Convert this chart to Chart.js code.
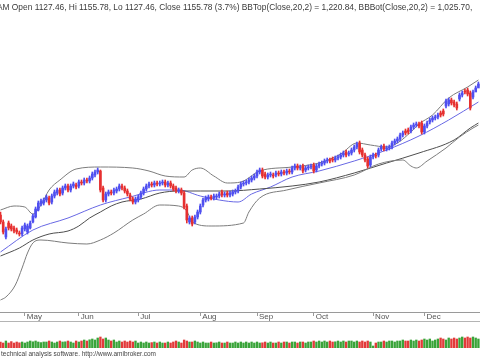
<!DOCTYPE html>
<html><head><meta charset="utf-8">
<script src="https://cdn.jsdelivr.net/npm/chart.js@4.4.1/dist/chart.umd.min.js"></script>
<style>html,body{margin:0;padding:0;background:#fff;overflow:hidden}
#wrap{position:relative;width:480px;height:360px;background:#fff}
canvas{position:absolute;left:0}
#c1{top:0}#c2{top:326px}</style></head>
<body><div id="wrap"><canvas id="c1" width="480" height="326"></canvas><canvas id="c2" width="480" height="34"></canvas></div>
<script>
const titleText = "AM Open 1127.46, Hi 1155.78, Lo 1127.46, Close 1155.78 (3.7%) BBTop(Close,20,2) = 1,220.84, BBBot(Close,20,2) = 1,025.70,";
const footerText = "technical analysis software. http://www.amibroker.com";
const monthLabels = ['May','Jun','Jul','Aug','Sep','Oct','Nov','Dec'];
const monthStarts = [9, 29, 51, 74, 95, 116, 138, 157];

const openP = [660,632,572,628,616,608,600,588,584,604,
592,608,632,652,680,704,708,720,728,712,
736,748,760,748,768,776,760,776,780,776,
792,788,800,796,808,820,832,836,768,720,
744,752,748,756,764,776,768,756,740,724,
712,720,732,748,764,776,784,780,788,784,
788,792,780,788,776,768,756,760,748,696,
632,648,632,652,672,700,720,724,732,728,
732,736,752,740,748,740,744,752,756,772,
784,788,792,800,808,816,832,840,824,812,
820,820,820,828,824,832,828,836,832,848,
856,848,856,840,848,852,860,840,856,864,
868,876,880,884,880,888,892,900,912,904,
908,920,932,948,920,900,884,860,892,900,
900,924,936,924,928,932,948,956,964,980,
996,1000,996,1012,1020,1024,1028,992,1016,1032,
1040,1048,1052,1068,1076,1096,1104,1120,1112,1104,
1124,1140,1156,1160,1148,1132,1152,1168];
const closeP = [632,592,604,608,604,596,592,584,608,620,
616,628,656,684,708,716,720,732,708,736,
752,760,744,768,776,760,776,784,772,792,
788,800,796,808,824,832,840,760,720,744,
752,748,760,764,776,768,756,744,724,712,
724,732,748,764,776,784,780,788,784,788,
792,780,788,776,764,756,760,748,692,640,
648,624,652,672,696,720,728,732,728,736,
736,744,740,744,740,748,752,756,772,784,
788,792,800,808,816,832,840,816,812,820,
824,816,828,824,832,828,836,832,848,856,
848,852,836,848,852,856,836,856,864,868,
876,880,876,880,888,892,900,908,900,908,
920,932,944,912,900,880,856,892,900,896,
920,932,924,928,932,948,956,964,980,988,
988,992,1012,1020,1024,1016,992,1016,1028,1040,
1048,1052,1060,1060,1064,1116,1120,1108,1100,1088,
1140,1148,1152,1144,1088,1152,1168,1184];
const highP = [672,640,612,636,624,616,608,596,616,628,
624,636,664,692,716,724,728,740,736,744,
760,768,768,776,784,784,784,792,788,800,
800,808,808,816,832,840,848,840,776,752,
760,760,768,772,784,784,776,764,748,732,
732,740,756,772,784,792,792,796,796,796,
800,800,796,796,784,776,768,768,756,704,
656,656,660,680,704,728,736,740,740,744,
744,752,760,752,756,756,760,764,780,792,
796,800,808,816,824,840,848,848,832,828,
832,828,836,836,840,840,844,844,856,864,
864,860,864,856,860,864,868,864,872,876,
884,888,888,892,896,900,908,916,920,916,
928,940,952,956,928,908,892,900,908,908,
928,940,944,936,940,956,964,972,988,996,
1004,1008,1020,1028,1032,1032,1036,1024,1036,1048,
1056,1060,1068,1076,1084,1124,1128,1128,1120,1112,
1148,1156,1164,1168,1156,1160,1176,1192];
const lowP = [624,584,564,600,596,588,584,576,576,596,
584,604,628,648,676,696,700,712,700,704,
728,740,736,740,760,752,752,768,764,768,
780,780,788,788,800,812,824,752,712,712,
736,740,740,748,756,760,748,736,716,704,
704,712,724,740,756,768,772,772,776,776,
780,772,772,768,756,748,748,740,684,628,
624,616,624,644,664,692,712,716,720,720,
724,728,732,732,732,732,736,744,748,764,
776,780,784,792,800,808,824,808,804,804,
812,808,812,816,816,820,820,824,824,840,
840,840,828,832,840,844,828,832,848,856,
860,868,868,872,872,880,884,892,892,896,
900,912,924,904,892,872,848,852,884,888,
892,916,916,916,920,924,940,948,956,972,
980,984,988,1004,1012,1008,984,984,1008,1024,
1032,1040,1044,1052,1056,1088,1096,1100,1092,1080,
1116,1132,1144,1136,1080,1124,1160,1176];
const volumeM = [600,500,700,500,640,500,600,520,600,
500,600,700,620,700,600,540,600,600,700,600,500,600,700,600,620,700,600,500,700,600,
700,800,700,820,900,800,1000,1100,900,1000,800,700,800,600,700,600,700,600,700,600,700,
500,600,500,600,500,540,600,500,600,500,500,600,500,600,700,600,500,800,700,600,600,700,
600,500,600,500,500,600,500,520,600,500,500,600,500,500,600,500,600,500,600,500,600,
500,600,500,520,600,500,600,500,500,600,500,600,600,500,600,600,500,600,600,500,600,
600,700,600,700,600,700,600,700,600,620,700,600,700,600,700,700,600,700,600,700,600,700,
600,200,500,600,600,700,600,700,700,600,700,700,800,700,700,800,700,800,700,
800,900,800,900,700,800,900,1000,900,800,1000,900,1000,900,1000,1100,1000,1100,1000,1100,1000,900];

// indicator lines: [bar index, value]
const bbTop = [[0,680],[5,696],[9,692],[12,664],[15,700],[18,760],[22,800],[28,844],[37,852],[49,848],[55,836],[61,816],[68,812],[71,840],[74,848],[79,816],[84,788],[89,792],[96,836],[108,852],[118,868],[126,904],[132,948],[137,940],[143,932],[147,948],[152,992],[155,1024],[160,1060],[166,1128],[173,1172],[177,1200]];
const bbBot = [[0,320],[2,332],[5.5,380],[8,448],[10,508],[12,548],[15,560],[25,548],[32,544],[37,560],[42,588],[49,640],[53,664],[59,700],[66,696],[69,676],[71,632],[78,616],[90,628],[92,672],[96,728],[106,760],[118,788],[131,820],[140,864],[149,880],[152,856],[154,848],[158,876],[165,928],[170,972],[175,1008],[177,1020]];
const ma20 = [[0,512],[12,600],[25,648],[37,700],[48,732],[59,760],[66,760],[74,736],[81,720],[88,712],[93,744],[100,772],[108,812],[118,836],[131,876],[143,920],[155,976],[166,1040],[177,1112]];
const ma50 = [[0,496],[7,528],[12,560],[18,584],[25,596],[29,616],[33,648],[37,672],[41,696],[45,712],[52,724],[59,748],[66,756],[74,756],[84,756],[96,764],[108,776],[118,792],[131,828],[143,868],[155,908],[168,960],[174,1008],[177,1028]];

const UP = '#4f4ff0', DOWN = '#e63030';
const VUP = '#3aa43a', VDOWN = '#e23a3a';
const XMIN = -0.185, XMAX = 177.59;
const days = closeP.map((_, i) => i);
const isUp = i => closeP[i] >= openP[i];
const pts = a => a.map(([x, y]) => ({x, y}));
const FONT = '"Liberation Sans", Arial, sans-serif';

const lineDs = (arr, color) => ({type:'line', data: pts(arr), borderColor: color, borderWidth: 1,
  pointRadius: 0, cubicInterpolationMode: 'monotone', fill: false, order: 3});

const titlePlugin = {
  id: 'ttl',
  afterDraw(chart) {
    const ctx = chart.ctx;
    ctx.save();
    ctx.font = '10px ' + FONT;
    const w = ctx.measureText(titleText).width;
    const size = 10 * 476 / w;
    ctx.font = size.toFixed(2) + 'px ' + FONT;
    ctx.fillStyle = '#3a3a3a';
    ctx.textBaseline = 'middle';
    ctx.fillText(titleText, -3, 8);
    ctx.strokeStyle = '#b4b4b4';
    ctx.lineWidth = 1;
    const yb = chart.scales.x.top + 9.5;
    ctx.beginPath(); ctx.moveTo(0, yb); ctx.lineTo(480, yb); ctx.stroke();
    ctx.restore();
  }
};

new Chart(document.getElementById('c1'), {
  type: 'bar',
  data: { datasets: [
    lineDs(bbTop, '#7c7c7c'),
    lineDs(bbBot, '#7c7c7c'),
    lineDs(ma50, '#4e4e4e'),
    lineDs(ma20, '#6868e4'),
    {type:'bar', data: days.map(i => ({x: i, y: [lowP[i], highP[i]]})), barThickness: 1, grouped: false,
     backgroundColor: c => isUp(c.dataIndex) ? UP : DOWN, borderWidth: 0, order: 1},
    {type:'bar', data: days.map(i => ({x: i, y: [openP[i], closeP[i]]})), barThickness: 2, grouped: false,
     minBarLength: 1, backgroundColor: c => isUp(c.dataIndex) ? UP : DOWN, borderWidth: 0, order: 0}
  ]},
  options: {
    responsive: false, animation: false, devicePixelRatio: 1,
    layout: {padding: {top: 15, left: 0, right: 0, bottom: 0}},
    plugins: {legend: {display: false}, tooltip: {enabled: false}, title: {display: false}},
    scales: {
      x: {type: 'linear', min: XMIN, max: XMAX, offset: false,
        afterBuildTicks: s => { s.ticks = monthStarts.map(v => ({value: v})); },
        afterFit: s => { s.height = 14; },
        grid: {drawOnChartArea: false, drawTicks: true, tickLength: 4, color: '#9a9a9a', offset: false},
        border: {display: true, color: '#9a9a9a'},
        ticks: {autoSkip: false, maxRotation: 0, minRotation: 0, align: 'start', labelOffset: 2, padding: -4,
          font: {family: FONT, size: 8}, color: '#555', callback: (v, i) => monthLabels[i]}
      },
      y: {display: false, min: 272, max: 1460}
    }
  },
  plugins: [titlePlugin]
});

const footerPlugin = {
  id: 'ftr',
  afterDraw(chart) {
    const ctx = chart.ctx;
    ctx.save();
    ctx.font = '10px ' + FONT;
    const w = ctx.measureText(footerText).width;
    ctx.font = (10 * 155 / w).toFixed(2) + 'px ' + FONT;
    ctx.fillStyle = '#444';
    ctx.textBaseline = 'middle';
    ctx.fillText(footerText, 1, 28);
    ctx.restore();
  }
};

new Chart(document.getElementById('c2'), {
  type: 'bar',
  data: { datasets: [
    {data: days.map(i => ({x: i, y: volumeM[i]})), barThickness: 1.7, grouped: false,
     backgroundColor: c => isUp(c.dataIndex) ? VUP : VDOWN, borderWidth: 0}
  ]},
  options: {
    responsive: false, animation: false, devicePixelRatio: 1,
    layout: {padding: {top: 4, left: 0, right: 0, bottom: 12}},
    plugins: {legend: {display: false}, tooltip: {enabled: false}},
    scales: {
      x: {type: 'linear', min: XMIN, max: XMAX, offset: false, display: false},
      y: {display: false, min: 0, max: 1800}
    }
  },
  plugins: [footerPlugin]
});
</script></body></html>
